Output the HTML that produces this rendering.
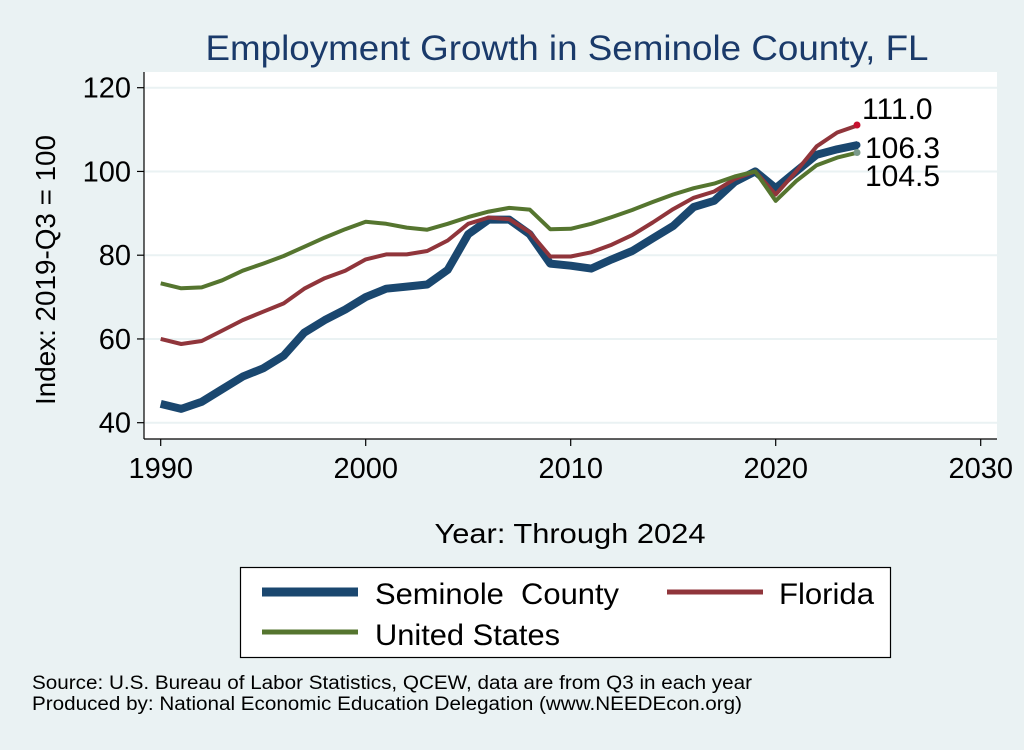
<!DOCTYPE html>
<html><head><meta charset="utf-8"><style>
html,body{margin:0;padding:0;background:#eaf2f3;}
body{width:1024px;height:745px;overflow:hidden;font-family:"Liberation Sans",sans-serif;}
</style></head><body>
<svg id="s" width="1024" height="745" xmlns="http://www.w3.org/2000/svg" font-family="Liberation Sans, sans-serif">
<rect width="1024" height="745" fill="#eaf2f3"/>
<text x="567" y="60" font-size="35" fill="#1a3a6a" text-anchor="middle" textLength="723" lengthAdjust="spacingAndGlyphs">Employment Growth in Seminole County, FL</text>
<rect x="144" y="72" width="853" height="367" fill="#fff"/>
<g id="grid" stroke="#eaf2f3" stroke-width="2"></g>
<line x1="144" y1="72" x2="144" y2="439" stroke="#000" stroke-width="1.2"/>
<line x1="144" y1="439" x2="997" y2="439" stroke="#000" stroke-width="1.2"/>
<g id="ticks" stroke="#000" stroke-width="1.2"></g>
<g id="labels" font-size="29" fill="#000"></g>
<text transform="translate(55,270) rotate(-90)" font-size="27.5" text-anchor="middle" textLength="270" lengthAdjust="spacingAndGlyphs">Index: 2019-Q3 = 100</text>
<text x="570" y="543" font-size="27.5" text-anchor="middle" textLength="271" lengthAdjust="spacingAndGlyphs">Year: Through 2024</text>
<g id="lines" fill="none" stroke-linejoin="round"></g>
<circle cx="857" cy="125" r="3.5" fill="#c8102e"/>
<circle cx="857" cy="145" r="3.5" fill="#1a476f"/>
<circle cx="857" cy="152.5" r="3.5" fill="#7a9a8a"/>
<text x="862" y="119" font-size="30">111.0</text>
<text x="865" y="158" font-size="30">106.3</text>
<text x="865" y="186" font-size="30">104.5</text>
<rect x="240.5" y="567.5" width="650" height="90" fill="#fff" stroke="#000" stroke-width="1.2"/>
<line x1="262" y1="592" x2="358" y2="592" stroke="#1a476f" stroke-width="9"/>
<text x="375" y="604" font-size="30" textLength="244" lengthAdjust="spacingAndGlyphs">Seminole&#160;&#160;County</text>
<line x1="667" y1="592" x2="763" y2="592" stroke="#90353b" stroke-width="5"/>
<text x="779" y="604" font-size="30" textLength="95" lengthAdjust="spacingAndGlyphs">Florida</text>
<line x1="262" y1="632" x2="358" y2="632" stroke="#55752f" stroke-width="5"/>
<text x="375" y="645" font-size="30" textLength="185" lengthAdjust="spacingAndGlyphs">United States</text>
<text x="32" y="689" font-size="19" textLength="720" lengthAdjust="spacingAndGlyphs">Source: U.S. Bureau of Labor Statistics, QCEW, data are from Q3 in each year</text>
<text x="32" y="710" font-size="19" textLength="710" lengthAdjust="spacingAndGlyphs">Produced by: National Economic Education Delegation (www.NEEDEcon.org)</text>
</svg>
<script>
var NS="http://www.w3.org/2000/svg";
function X(y){return 160.7+(y-1990)*20.5;}
function Y(v){return 422.7-(v-40)*4.1875;}
function el(p,t,a,txt){var e=document.createElementNS(NS,t);for(var k in a)e.setAttribute(k,a[k]);if(txt)e.textContent=txt;document.getElementById(p).appendChild(e);}
[40,60,80,100,120].forEach(function(v){
 el("grid","line",{x1:145,x2:997,y1:Y(v),y2:Y(v)});
 el("ticks","line",{x1:137,x2:144,y1:Y(v),y2:Y(v)});
 el("labels","text",{x:131,y:Y(v)+10,"text-anchor":"end"},String(v));
});
[1990,2000,2010,2020,2030].forEach(function(y){
 el("ticks","line",{x1:X(y),x2:X(y),y1:439,y2:446});
 el("labels","text",{x:X(y),y:478,"text-anchor":"middle"},String(y));
});
var sem=[44.5,43.3,45,48,51,53,56,61.5,64.5,67,70,72,72.5,73,76.5,85,88.5,88.5,85,78,77.5,76.8,79,81,84,87,91.5,93,97.5,100,96,100,104,105.3,106.3];
var fl=[60,58.8,59.5,62,64.5,66.5,68.5,72,74.5,76.3,79,80.2,80.2,81,83.5,87.5,89,88.6,85.5,79.7,79.7,80.7,82.5,84.8,87.8,91,93.7,95.2,98.2,100,94.5,100,106,109.3,111];
var us=[73.3,72.1,72.3,74,76.3,78,79.8,82,84.2,86.2,88,87.5,86.6,86.1,87.5,89.1,90.4,91.3,90.9,86.2,86.3,87.5,89.1,90.8,92.7,94.5,96,97.1,98.8,100,93,97.7,101.5,103.3,104.5];
function pts(a){return a.map(function(v,i){return X(1990+i).toFixed(1)+","+Y(v).toFixed(1);}).join(" ");}
el("lines","polyline",{points:pts(sem),stroke:"#1a476f","stroke-width":8});
el("lines","polyline",{points:pts(fl),stroke:"#90353b","stroke-width":4});
el("lines","polyline",{points:pts(us),stroke:"#55752f","stroke-width":4});
</script>
</body></html>
